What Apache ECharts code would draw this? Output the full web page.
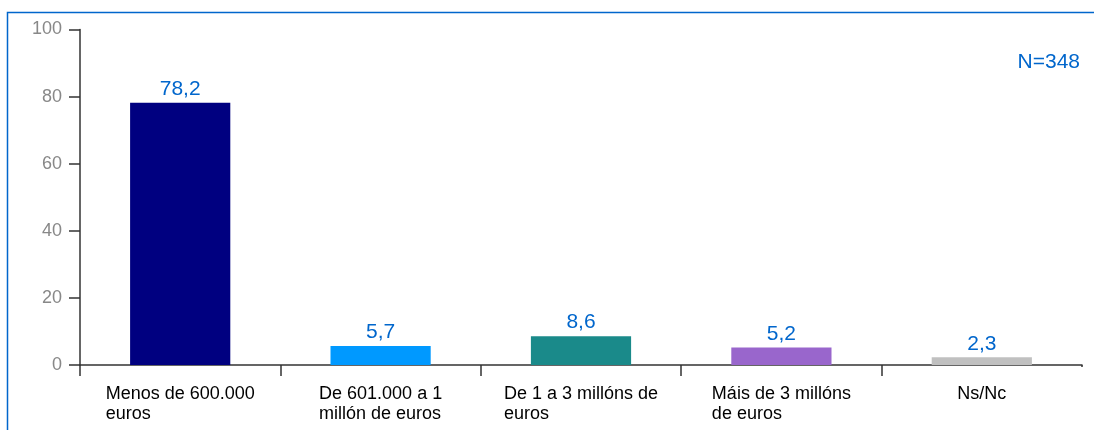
<!DOCTYPE html>
<html>
<head>
<meta charset="utf-8">
<script src="https://cdn.jsdelivr.net/npm/echarts@6/dist/echarts.min.js"></script>
<style>
  html, body { margin: 0; padding: 0; background: #fff; }
  #chart { width: 1094px; height: 430px; }
</style>
</head>
<body>
<div id="chart"></div>
<script>
// datos
const categories = [
  'Menos de 600.000\neuros',
  'De 601.000 a 1\nmillón de euros',
  'De 1 a 3 millóns de\neuros',
  'Máis de 3 millóns\nde euros',
  'Ns/Nc'
]
const values = [78.2, 5.7, 8.6, 5.2, 2.3]
const barColors = ['#000080', '#0099ff', '#1a8a8a', '#9966cc', '#c0c0c0']
const yTicks = [0, 20, 40, 60, 80, 100]
const sampleLabel = 'N=348'

const FONT = '"Liberation Sans", Arial, sans-serif'
const chart = echarts.init(document.getElementById('chart'))

const option = {
  animation: false,
  textStyle: { fontFamily: FONT },
  grid: { left: 80, right: 12, top: 29.5, bottom: 65, containLabel: false },
  graphic: [
    {
      // marco azul (só se ven os bordes superior e esquerdo)
      type: 'rect',
      shape: { x: 7.5, y: 12.5, width: 1200, height: 600 },
      style: { fill: 'none', stroke: '#0066cc', lineWidth: 1.5 },
      silent: true
    },
    {
      // o eixo do orixinal non ten marca no extremo dereito
      type: 'rect',
      shape: { x: 1080.5, y: 367, width: 6, height: 12 },
      style: { fill: '#fff' },
      z: 100,
      silent: true
    },
    {
      type: 'text',
      right: 14,
      top: 52,
      style: { text: sampleLabel, fill: '#0066cc', font: '21px ' + FONT }
    }
  ],
  xAxis: {
    type: 'category',
    data: categories,
    axisLine: { lineStyle: { color: '#333', width: 1.5 } },
    axisTick: { show: true, length: 11, lineStyle: { color: '#333', width: 1.5 } },
    axisLabel: {
      interval: 0,
      margin: 19,
      align: 'center',
      color: '#000',
      fontSize: 18,
      lineHeight: 20,
      formatter: v => '{l|' + v + '}',
      rich: { l: { align: 'left', fontSize: 18, lineHeight: 20, color: '#000', fontFamily: FONT } }
    }
  },
  yAxis: {
    type: 'value',
    min: yTicks[0],
    max: yTicks[yTicks.length - 1],
    interval: yTicks[1] - yTicks[0],
    splitLine: { show: false },
    axisLine: { show: true, lineStyle: { color: '#333', width: 1.5 } },
    axisTick: { show: true, length: 11, lineStyle: { color: '#333', width: 1.5 } },
    axisLabel: { color: '#888', fontSize: 18, margin: 18 }
  },
  series: [
    {
      type: 'bar',
      barWidth: '50%',
      data: values.map((v, i) => ({ value: v, itemStyle: { color: barColors[i] } })),
      label: {
        show: true,
        position: 'top',
        distance: 3,
        color: '#0066cc',
        fontSize: 21,
        fontFamily: FONT,
        formatter: p => String(p.value).replace('.', ',')
      }
    }
  ]
}
chart.setOption(option)
</script>
</body>
</html>
